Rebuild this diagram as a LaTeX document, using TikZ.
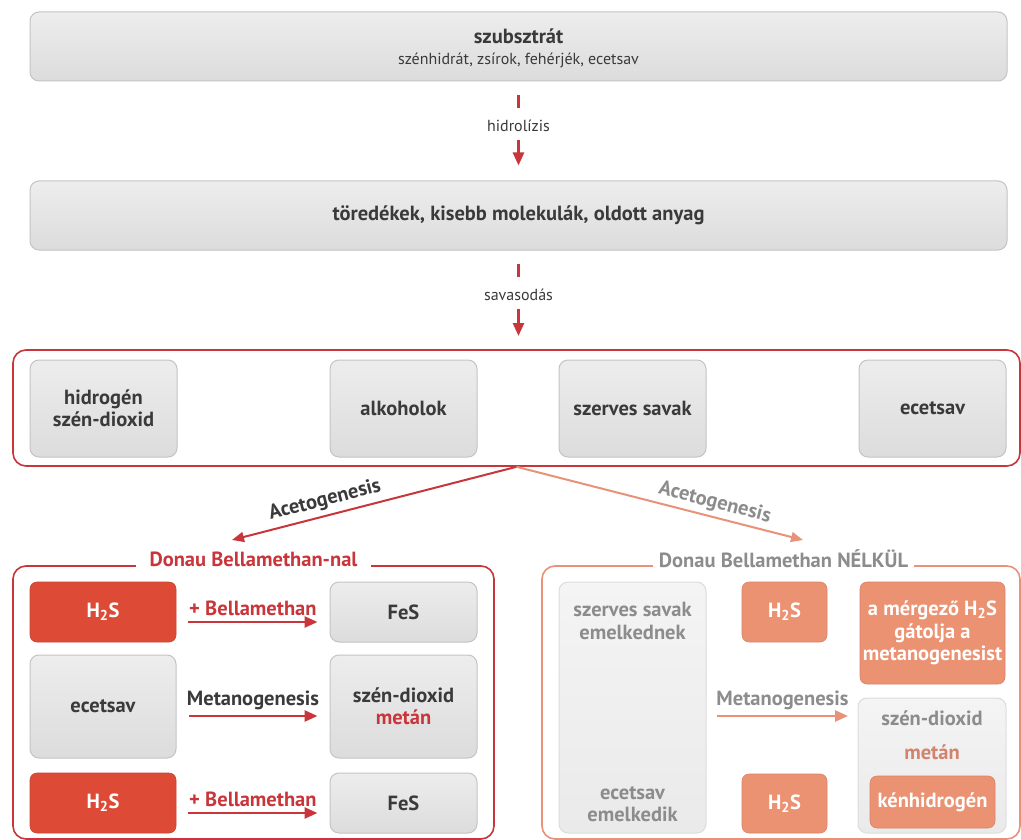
\documentclass[tikz,border=0pt]{standalone}
\usepackage{fontspec}
\setmainfont{PT Sans}
\usetikzlibrary{arrows.meta}
\definecolor{gtop}{HTML}{EDEDED}
\definecolor{gbot}{HTML}{DCDCDC}
\definecolor{gline}{HTML}{C4C4C4}
\definecolor{ltop}{HTML}{F4F4F4}
\definecolor{lbot}{HTML}{EAEAEA}
\definecolor{lline}{HTML}{DCDCDC}
\definecolor{redl}{HTML}{C8363B}
\definecolor{redf}{HTML}{DD4B36}
\definecolor{saml}{HTML}{E8927A}
\definecolor{samf}{HTML}{EA9272}
\definecolor{dtext}{HTML}{3A3A3A}
\definecolor{gtext}{HTML}{8C8C8C}
\tikzset{
  lbl/.style={font=\fontsize{20.5}{22.5}\selectfont\bfseries, text=dtext, align=center, inner sep=1.5pt},
  gbox/.style={draw=gline, line width=1pt, rounded corners=9pt, top color=gtop, bottom color=gbot, lbl},
  lbox/.style={draw=lline, line width=1pt, rounded corners=9pt, top color=ltop, bottom color=lbot, lbl, text=gtext},
  rbox/.style={fill=redf, draw=redf!90!black, line width=0.6pt, rounded corners=7pt, lbl, text=white},
  sbox/.style={fill=samf, draw=samf!92!black, line width=0.6pt, rounded corners=7pt, lbl, text=white},
  rarr/.style={draw=redl, line width=2.6pt, -{Triangle[width=11pt,length=13pt]}},
  sarr/.style={draw=saml, line width=2.6pt, -{Triangle[width=11pt,length=13pt]}},
  rdash/.style={draw=redl, line width=2.6pt},
  small/.style={font=\fontsize{16}{19}\selectfont, text=dtext, inner sep=2pt},
}
\begin{document}
\begin{tikzpicture}[x=1pt,y=-1pt]
\useasboundingbox[fill=white] (0,0) rectangle (1021,840);
% top boxes
\node[gbox, minimum width=977, minimum height=69] (sub) at (518.5,46.5) {};
\node[lbl] (subt) at (518.5,36) {szubsztrát};
\node[small] (subs) at (518.5,60) {szénhidrát, zsírok, fehérjék, ecetsav};
\node[gbox, minimum width=977, minimum height=69] (tor) at (518.5,215.5) {töredékek, kisebb molekulák, oldott anyag};
% hydrolysis
\coordinate (d1a) at (518.5,95);
\coordinate (d1b) at (518.5,108);
\draw[rdash] (d1a) -- (d1b);
\node[small] (hid) at (518.5,126) {hidrolízis};
\coordinate (h1) at (518.5,140);
\draw[rarr] (h1) -- ([yshift=15pt]tor.north);
% acidification
\coordinate (d2a) at (518.5,264);
\coordinate (d2b) at (518.5,277);
\draw[rdash] (d2a) -- (d2b);
\node[small] (sav) at (518.5,295) {savasodás};
\coordinate (h2) at (518.5,309);
\coordinate (h2e) at (518.5,336);
\draw[rarr] (h2) -- (h2e);
% frame
\node[draw=redl, line width=1.6pt, rounded corners=13pt, minimum width=1007, minimum height=116, fill=white] (frame) at (516.5,408) {};
\node[gbox, minimum width=147, minimum height=97] (hyd) at (103.5,408.5) {hidrogén\\szén-dioxid};
\node[gbox, minimum width=147, minimum height=97] (alk) at (403.5,408.5) {alkoholok};
\node[gbox, minimum width=147, minimum height=97] (szs) at (632.5,408.5) {szerves savak};
\node[gbox, minimum width=147, minimum height=97] (ecs) at (932.5,408.5) {ecetsav};
% acetogenesis
\coordinate (acL) at (232,540);
\coordinate (acR) at (803,540);
\draw[draw=redl, line width=2pt, -{Triangle[width=10pt,length=12pt]}] (frame.south) -- (acL)
  node[pos=0.66, sloped, above=3pt, lbl] {Acetogenesis};
\draw[draw=saml, line width=2pt, -{Triangle[width=10pt,length=12pt]}] (frame.south) -- (acR)
  node[pos=0.68, sloped, above=2pt, lbl, text=gtext] {Acetogenesis};
% left frame
\node[draw=redl, line width=1.6pt, rounded corners=13pt, minimum width=481, minimum height=273] (lf) at (253.5,702.5) {};
\node[lbl, text=redl, fill=white, inner xsep=14pt, inner ysep=2pt] (lft) at (253.5,559) {Donau Bellamethan-nal};
\node[rbox, minimum width=146, minimum height=60] (h2sA) at (103,612) {H\textsubscript{2}S};
\node[gbox, minimum width=147, minimum height=60] (fesA) at (403.5,612) {FeS};
\node[gbox, minimum width=146, minimum height=103] (ecA) at (103,706.5) {ecetsav};
\node[gbox, minimum width=147, minimum height=103] (szdA) at (403.5,706.5) {szén-dioxid\\\textcolor{redl}{metán}};
\node[rbox, minimum width=146, minimum height=60] (h2sB) at (103,803) {H\textsubscript{2}S};
\node[gbox, minimum width=147, minimum height=60] (fesB) at (403.5,803) {FeS};
\draw[rarr] ([xshift=12pt,yshift=-10pt]h2sA.east) -- ([xshift=-12pt,yshift=-10pt]fesA.west)
  node[midway, above=3pt, lbl, text=redl] {+ Bellamethan};
\draw[rarr] ([xshift=12pt,yshift=-9.5pt]ecA.east) -- ([xshift=-12pt,yshift=-9.5pt]szdA.west)
  node[midway, above=3pt, lbl] {Metanogenesis};
\draw[rarr] ([xshift=12pt,yshift=-10pt]h2sB.east) -- ([xshift=-12pt,yshift=-10pt]fesB.west)
  node[midway, above=3pt, lbl, text=redl] {+ Bellamethan};
% right frame
\node[draw=saml, line width=1.6pt, rounded corners=13pt, minimum width=478, minimum height=273] (rf) at (781,702.5) {};
\node[lbl, text=gtext, fill=white, inner xsep=6pt, inner ysep=2pt] (rft) at (783.5,559) {Donau Bellamethan NÉLKÜL};
\node[lbox, minimum width=147, minimum height=251] (szR) at (632.5,707.5) {};
\node[lbl, text=gtext] (szRt) at (632.5,621) {szerves savak\\emelkednek};
\node[lbl, text=gtext] (szRb) at (632.5,804) {ecetsav\\emelkedik};
\node[sbox, minimum width=85, minimum height=60] (h2sR1) at (784.5,612) {H\textsubscript{2}S};
\node[sbox, minimum width=145, minimum height=102, inner xsep=1pt] (merg) at (932.5,633) {a mérgező H\textsubscript{2}S\\gátolja a\\metanogenesist};
\node[lbox, minimum width=148, minimum height=135] (szdR) at (932,765.5) {};
\node[lbl, text=gtext] (szdRt) at (932,718) {szén-dioxid};
\node[lbl, text=saml!90!black] (metR) at (932,752) {metán};
\node[sbox, minimum width=125, minimum height=52] (kenh) at (932.5,802) {kénhidrogén};
\node[sbox, minimum width=85, minimum height=59] (h2sR2) at (784.5,803.5) {H\textsubscript{2}S};
\coordinate (mRa) at (717,716);
\coordinate (mRb) at (848,716);
\draw[sarr] (mRa) -- (mRb) node[midway, above=3pt, lbl, text=gtext] {Metanogenesis};
\end{tikzpicture}
\end{document}
